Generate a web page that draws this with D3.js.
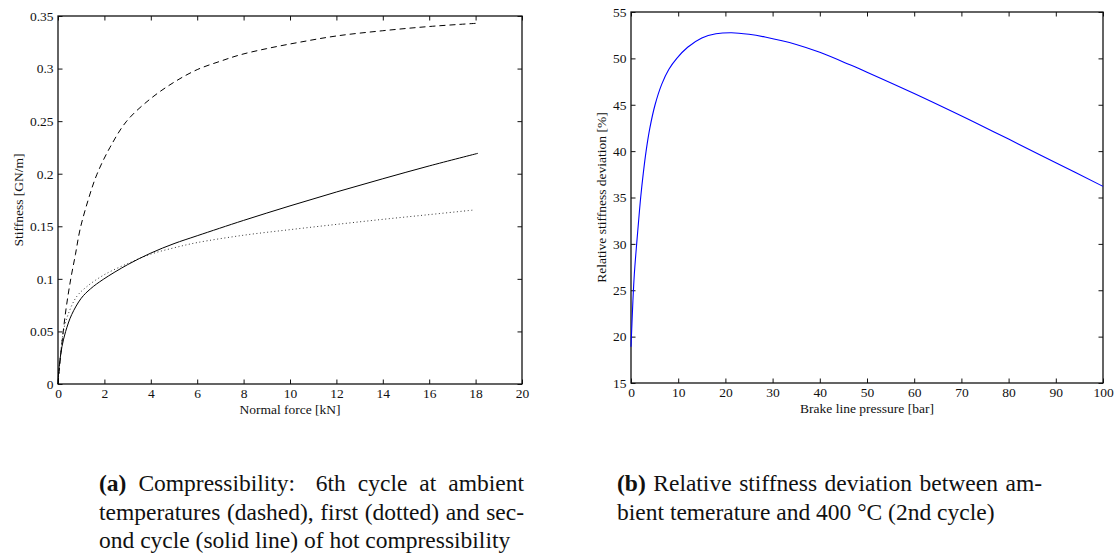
<!DOCTYPE html>
<html>
<head>
<meta charset="utf-8">
<script src="https://cdn.jsdelivr.net/npm/d3@7"></script>
<style>
  html, body { margin: 0; padding: 0; background: #fff; }
  svg { display: block; }
  text { font-family: "Liberation Serif", "Times New Roman", Times, serif; fill: #111; }
</style>
</head>
<body>
<svg id="chart" width="1115" height="556"></svg>
<script>
// ---------- data: chart (a) ----------
const forceTicks = [0, 2, 4, 6, 8, 10, 12, 14, 16, 18, 20];
const forceTickLabels = ["0","2","4","6","8","10","12","14","16","18","20"];
const stiffTicks = [0, 0.05, 0.1, 0.15, 0.2, 0.25, 0.3, 0.35];
const stiffTickLabels = ["0","0.05","0.1","0.15","0.2","0.25","0.3","0.35"];

// 6th cycle at ambient temperature (dashed)
const dashedX = [0, 0.05, 0.1, 0.2, 0.35, 0.55, 0.75, 0.95, 1.3, 1.67, 2.24, 2.96, 3.97, 5, 6, 7, 7.84, 9, 10.4, 12, 14, 16, 18];
const dashedY = [0, 0.012, 0.024, 0.045, 0.072, 0.1, 0.123, 0.147, 0.175, 0.199, 0.225, 0.25, 0.271, 0.287, 0.299, 0.307, 0.313, 0.319, 0.325, 0.331, 0.336, 0.340, 0.343];

// first cycle hot (dotted)
const dottedX = [0, 0.05, 0.1, 0.23, 0.45, 0.8, 1.24, 2, 3, 4, 5, 6, 8, 10, 12, 14, 16, 17.94];
const dottedY = [0, 0.015, 0.025, 0.05, 0.067, 0.083, 0.0926, 0.104, 0.1145, 0.1235, 0.1295, 0.1345, 0.1415, 0.1468, 0.1518, 0.1566, 0.1611, 0.1655];

// second cycle hot (solid)
const solidX = [0, 0.03, 0.08, 0.17, 0.33, 0.59, 1, 1.4, 1.95, 3, 4, 5, 6, 8, 10, 12, 14, 16, 18.1];
const solidY = [0, 0.012, 0.022, 0.0355, 0.05, 0.066, 0.0815, 0.0905, 0.0995, 0.1135, 0.1245, 0.1335, 0.141, 0.1556, 0.1694, 0.1826, 0.1952, 0.2074, 0.2194];

// ---------- data: chart (b) ----------
const pressureTicks = [0, 10, 20, 30, 40, 50, 60, 70, 80, 90, 100];
const pressureTickLabels = ["0","10","20","30","40","50","60","70","80","90","100"];
const devTicks = [15, 20, 25, 30, 35, 40, 45, 50, 55];
const devTickLabels = ["15","20","25","30","35","40","45","50","55"];

const pressureX = [0, 0.2, 0.4, 0.7, 1.2, 1.6, 2.05, 2.6, 3.2, 4, 5.1, 6.5, 8, 9.7, 12, 15, 18, 21.3, 25, 28.4, 35, 40, 46.4, 50, 60, 73.2, 80, 90, 100];
const deviationY = [18.9, 21.4, 23.8, 26.7, 30, 32.4, 35, 37.6, 40, 42.5, 45, 47.2, 48.8, 50, 51.2, 52.2, 52.65, 52.77, 52.6, 52.3, 51.5, 50.65, 49.3, 48.5, 46.2, 43.0, 41.3, 38.75, 36.2];

// ---------- captions ----------
const captionA = [
  [["(a)", true], ["Compressibility:", false], ["6th", false], ["cycle", false], ["at", false], ["ambient", false]],
  [["temperatures", false], ["(dashed),", false], ["first", false], ["(dotted)", false], ["and", false], ["sec-", false]],
  [["ond", false], ["cycle", false], ["(solid", false], ["line)", false], ["of", false], ["hot", false], ["compressibility", false]]
];
const captionB = [
  [["(b)", true], ["Relative", false], ["stiffness", false], ["deviation", false], ["between", false], ["am-", false]],
  [["bient", false], ["temerature", false], ["and", false], ["400", false], ["\u00B0C", false], ["(2nd", false], ["cycle)", false]]
];

// ---------- drawing ----------
const FONT = '"Liberation Serif", "Times New Roman", Times, serif';
const svg = d3.select("#chart");
const TICK = 4.5;
const FS = 13.5;

function zip(xs, ys) { return xs.map((x, i) => [x, ys[i]]); }

function panel(box, xDom, yDom, xt, xtl, yt, ytl, xLabel, yLabel, yLabelX) {
  const x = d3.scaleLinear().domain(xDom).range([box.l, box.r]);
  const y = d3.scaleLinear().domain(yDom).range([box.b, box.t]);
  const g = svg.append("g");

  const bottom = g.append("g").attr("transform", `translate(0,${box.b})`)
    .call(d3.axisBottom(x).tickValues(xt).tickFormat((d, i) => xtl[i]).tickSizeInner(-TICK).tickSizeOuter(0).tickPadding(4.5));
  const top = g.append("g").attr("transform", `translate(0,${box.t})`)
    .call(d3.axisTop(x).tickValues(xt).tickFormat("").tickSizeInner(-TICK).tickSizeOuter(0));
  const left = g.append("g").attr("transform", `translate(${box.l},0)`)
    .call(d3.axisLeft(y).tickValues(yt).tickFormat((d, i) => ytl[i]).tickSizeInner(-TICK).tickSizeOuter(0).tickPadding(4.5));
  const right = g.append("g").attr("transform", `translate(${box.r},0)`)
    .call(d3.axisRight(y).tickValues(yt).tickFormat("").tickSizeInner(-TICK).tickSizeOuter(0));

  [bottom, top, left, right].forEach(a => {
    a.attr("font-family", FONT).attr("font-size", FS);
    a.select(".domain").remove();
    a.selectAll(".tick line").attr("stroke", "#111").attr("stroke-width", 1);
    a.selectAll("text").attr("font-size", FS).attr("font-family", FONT).attr("fill", "#111");
  });

  g.append("rect").attr("x", box.l).attr("y", box.t)
    .attr("width", box.r - box.l).attr("height", box.b - box.t)
    .attr("fill", "none").attr("stroke", "#111").attr("stroke-width", 1.3);

  g.append("text").attr("x", (box.l + box.r) / 2).attr("y", box.b + 30)
    .attr("text-anchor", "middle").attr("font-size", FS).attr("font-family", FONT).text(xLabel);
  g.append("text").attr("transform", `translate(${yLabelX},${(box.t + box.b) / 2}) rotate(-90)`)
    .attr("text-anchor", "middle").attr("font-size", FS).attr("font-family", FONT).text(yLabel);

  return { x, y, g };
}

// Panel (a)
const A = panel({ l: 58, r: 522, t: 16, b: 384 }, [0, 20], [0, 0.35],
  forceTicks, forceTickLabels, stiffTicks, stiffTickLabels,
  "Normal force [kN]", "Stiffness [GN/m]", 23);

const lineA = d3.line().x(d => A.x(d[0])).y(d => A.y(d[1])).curve(d3.curveCatmullRom.alpha(0.5));
A.g.append("path").datum(zip(dashedX, dashedY)).attr("d", lineA)
  .attr("fill", "none").attr("stroke", "#000").attr("stroke-width", 1).attr("stroke-dasharray", "6,4");
A.g.append("path").datum(zip(dottedX, dottedY)).attr("d", lineA)
  .attr("fill", "none").attr("stroke", "#000").attr("stroke-width", 0.8).attr("stroke-dasharray", "1,2.6");
A.g.append("path").datum(zip(solidX, solidY)).attr("d", lineA)
  .attr("fill", "none").attr("stroke", "#000").attr("stroke-width", 1);

// Panel (b)
const B = panel({ l: 631, r: 1103, t: 12, b: 383 }, [0, 100], [15, 55],
  pressureTicks, pressureTickLabels, devTicks, devTickLabels,
  "Brake line pressure [bar]", "Relative stiffness deviation [%]", 606);

const lineB = d3.line().x(d => B.x(d[0])).y(d => B.y(d[1])).curve(d3.curveCatmullRom.alpha(0.5));
B.g.append("path").datum(zip(pressureX, deviationY)).attr("d", lineB)
  .attr("fill", "none").attr("stroke", "#0000ff").attr("stroke-width", 1.1);

// Justified captions (TeX-like: wider, more stretchable space after a colon)
const CFS = 23.5;
function caption(lines, x0, x1, y0, lh) {
  const g = svg.append("g");
  const sp = CFS * 0.25;
  lines.forEach((words, li) => {
    const items = words.map(([w, bold]) => {
      const t = g.append("text").attr("font-size", CFS).attr("font-family", FONT)
        .attr("font-weight", bold ? "bold" : "normal")
        .attr("y", y0 + li * lh).text(w);
      return { t, w: t.node().getComputedTextLength(), colon: /:$/.test(w) };
    });
    const last = li === lines.length - 1;
    const gaps = items.slice(0, -1).map(it => ({
      nat: it.colon ? sp + CFS * 0.11 : sp,
      str: it.colon ? 2 : 1
    }));
    const natural = d3.sum(items, d => d.w) + d3.sum(gaps, d => d.nat);
    const extra = last ? 0 : (x1 - x0 - natural) / d3.sum(gaps, d => d.str);
    let cx = x0;
    items.forEach((it, i) => {
      it.t.attr("x", cx);
      if (i < gaps.length) cx += it.w + gaps[i].nat + extra * gaps[i].str;
    });
  });
}
caption(captionA, 99, 524, 491, 28.5);
caption(captionB, 617, 1042, 491, 28.5);
</script>
</body>
</html>
